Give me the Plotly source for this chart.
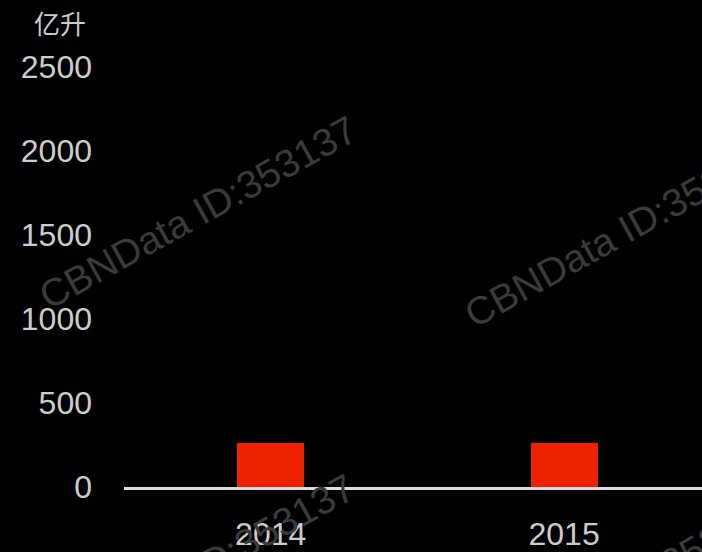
import plotly.graph_objects as go

years = ["2014", "2015"]
values = [260, 260]
y_ticks = [0, 500, 1000, 1500, 2000, 2500]
unit_label = "亿升"
watermark = "CBNData ID:353137"

W, H = 702, 552
L, R, T, B = 124, 0, 67, 65
PW, PH = W - L - R, H - T - B

def px(x, y):
    return (x - L) / PW, 1 - (y - T) / PH

fig = go.Figure()
fig.add_trace(go.Bar(x=years, y=values, marker=dict(color="#ee2200", line=dict(width=0)),
                     width=0.228))

annotations = []
for (cx, cy) in [(198, 212), (624, 231), (196, 570), (622, 589)]:
    xx, yy = px(cx, cy)
    annotations.append(dict(x=xx, y=yy, xref="paper", yref="paper", text=watermark,
                            showarrow=False, textangle=-29,
                            font=dict(family="Liberation Sans, Arial", size=39, color="#3a3a3a"),
                            xanchor="center", yanchor="middle"))
ux, uy = px(88, 23)
annotations.append(dict(x=ux, y=uy, xref="paper", yref="paper", text=unit_label,
                        showarrow=False, xanchor="right", yanchor="middle",
                        font=dict(family="Noto Sans CJK SC", size=26, color="#cccccc")))

fig.update_layout(
    width=W, height=H,
    margin=dict(l=L, r=R, t=T, b=B, pad=0),
    paper_bgcolor="#000000", plot_bgcolor="#000000",
    showlegend=False,
    bargap=0,
    annotations=annotations,
    xaxis=dict(type="category", range=[-0.5, 1.47], showgrid=False, zeroline=False,
               showline=True, linecolor="#dddddd", linewidth=2.5, ticks="",
               tickfont=dict(family="Liberation Sans, Arial", size=32, color="#cccccc"),
               ticklabelstandoff=17),
    yaxis=dict(range=[0, 2500], tickvals=y_ticks, showgrid=False, zeroline=False,
               showline=False, ticks="",
               tickfont=dict(family="Liberation Sans, Arial", size=32, color="#cccccc"),
               ticklabelstandoff=31),
)
fig.write_html("out.html", config={"displayModeBar": False},
               post_script="document.body.style.margin='0';document.body.style.background='#000';")
